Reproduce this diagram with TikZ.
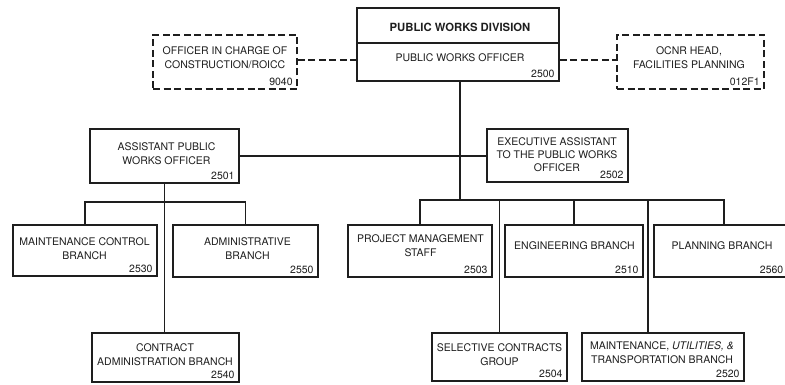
\documentclass[tikz,border=0pt]{standalone}
\usepackage{fontspec}
\setmainfont{TeX Gyre Heros}
\usetikzlibrary{calc}
\definecolor{ink}{RGB}{30,30,30}
\tikzset{
  box/.style={draw=ink, line width=1.5pt, inner sep=0pt, fill=white},
  dbox/.style={draw=ink, line width=1.6pt, dash pattern=on 7pt off 3.5pt, inner sep=0pt},
  link/.style={draw=ink, line width=1.6pt},
  dlink/.style={draw=ink, line width=1.6pt, dash pattern=on 7pt off 3.5pt},
  txt/.style={align=center, inner sep=0pt, text=ink, font=\fontsize{10.5}{14}\selectfont},
  btxt/.style={align=center, inner sep=0pt, text=ink, font=\fontsize{11.3}{14}\selectfont\bfseries},
  num/.style={anchor=base east, inner sep=0pt, text=ink, font=\fontsize{10.5}{14}\selectfont}
}
% box by corners: name, x1, y1, x2, y2, style
\newcommand\orgbox[6]{%
  \node[#6, minimum width={(#4-#2)*1pt}, minimum height={(#5-#3)*1pt}]
    (#1) at ({(#2+#4)/2},{(#3+#5)/2}) {};}
\newcommand\orgnum[3]{%
  \node[num] (#1) at ($(#2.south east)+(-5,-4)$) {#3};}
\begin{document}
\begin{tikzpicture}[x=1pt,y=-1pt]
\useasboundingbox (0,0) rectangle (785,385);
\clip (0,0) rectangle (785,385);
\fill[white] (0,0) rectangle (785,385);

% boxes
\orgbox{topA}{357}{8}{559}{43}{box}
\orgbox{topB}{357}{43}{559}{81}{box}
\orgbox{lod}{153}{35}{297}{89}{dbox}
\orgbox{rod}{617}{35}{764}{89}{dbox}
\orgbox{asst}{90}{129}{239}{183}{box}
\orgbox{exec}{487}{129}{628}{182}{box}
\orgbox{mcb}{13}{225}{157}{276}{box}
\orgbox{adm}{173}{225}{318}{277}{box}
\orgbox{cab}{92}{333}{239}{382}{box}
\orgbox{pms}{348}{225}{492}{277}{box}
\orgbox{eng}{505}{225}{643}{277}{box}
\orgbox{pln}{654}{225}{794}{277}{box}
\orgbox{scg}{432}{333}{567}{381}{box}
\orgbox{mut}{582}{333}{744}{381}{box}

% bus coordinates
\coordinate (mainx) at (460,200);
\coordinate (rb) at (0,200);
\coordinate (lb) at (0,202);
\coordinate (dl) at (0,60);
\coordinate (mutdrop) at (648,200);

% connectors
\draw[dlink] (lod.east |- dl) -- (topB.west |- dl);
\draw[dlink] (topB.east |- dl) -- (rod.west |- dl);
\draw[link] (topB.south -| mainx) -- (mainx);
\draw[link] (asst.east |- 0,156) -- (exec.west |- 0,156);
\draw[link] (asst.south) -- (asst.south |- cab.north);
\draw[link] (mcb.north) |- (lb -| adm.north) -- (adm.north);
\draw[link] (pms.north) |- (rb -| pln.north) -- (pln.north);
\draw[link] (eng.north) -- (eng.north |- rb);
\draw[link] (scg.north) -- (scg.north |- rb);
\draw[link] (mutdrop) -- (mutdrop |- mut.north);

% texts
\node[btxt] (tA) at (460,27) {PUBLIC WORKS DIVISION};
\node[txt] (tB) at (460,58) {PUBLIC WORKS OFFICER};
\orgnum{nB}{topB}{2500}
\node[txt] (tlod) at (225,57.5) {OFFICER IN CHARGE OF\\CONSTRUCTION/ROICC};
\orgnum{nlod}{lod}{9040}
\node[txt] (trod) at (689,58) {OCNR HEAD,\\FACILITIES PLANNING};
\orgnum{nrod}{rod}{012F1}
\node[txt] (tasst) at (166.5,154) {ASSISTANT PUBLIC\\WORKS OFFICER};
\orgnum{nasst}{asst}{2501}
\node[txt, font=\fontsize{10.5}{13}\selectfont] (texec) at (557,155) {EXECUTIVE ASSISTANT\\TO THE PUBLIC WORKS\\OFFICER};
\orgnum{nexec}{exec}{2502}
\node[txt] (tmcb) at (84.5,248.5) {MAINTENANCE CONTROL\\BRANCH};
\orgnum{nmcb}{mcb}{2530}
\node[txt] (tadm) at (247.5,248.5) {ADMINISTRATIVE\\BRANCH};
\orgnum{nadm}{adm}{2550}
\node[txt] (tcab) at (165,354.5) {CONTRACT\\ADMINISTRATION BRANCH};
\orgnum{ncab}{cab}{2540}
\node[txt] (tpms) at (420.5,245.5) {PROJECT MANAGEMENT\\STAFF};
\orgnum{npms}{pms}{2503}
\node[txt] (teng) at (574.5,246) {ENGINEERING BRANCH};
\orgnum{neng}{eng}{2510}
\node[txt] (tpln) at (722,246) {PLANNING BRANCH};
\node[num] (npln) at (783.5,273) {2560};
\node[txt] (tscg) at (499.5,355) {SELECTIVE CONTRACTS\\GROUP};
\orgnum{nscg}{scg}{2504}
\node[txt] (tmut) at (662,353) {MAINTENANCE, \textit{UTILITIES, \&}\\TRANSPORTATION BRANCH};
\orgnum{nmut}{mut}{2520}
\end{tikzpicture}
\end{document}
